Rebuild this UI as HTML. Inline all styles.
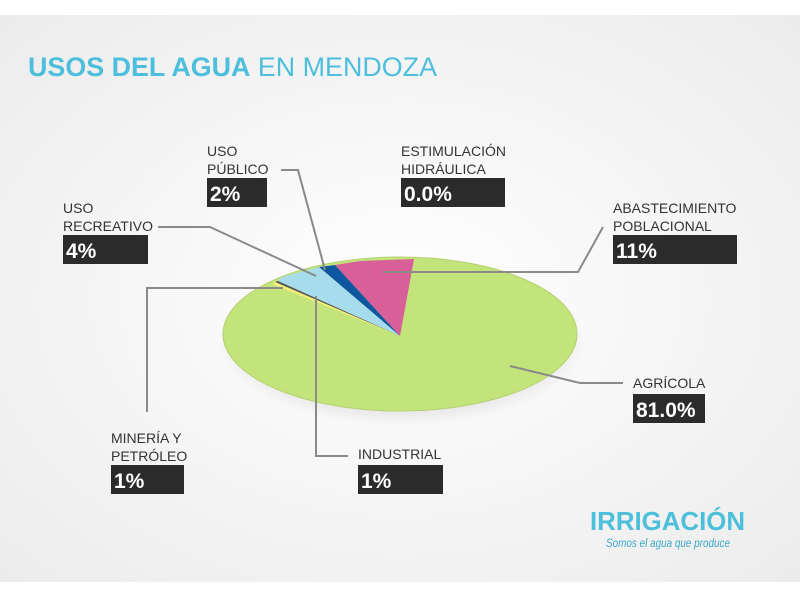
<!DOCTYPE html>
<html><head><meta charset="utf-8"><style>
body{margin:0;width:800px;height:600px;overflow:hidden;background:#fff;font-family:"Liberation Sans",sans-serif}
</style></head><body>
<svg width="800" height="600" viewBox="0 0 800 600" xmlns="http://www.w3.org/2000/svg">
<defs>
<radialGradient id="bg" cx="50%" cy="50%" r="70%">
<stop offset="0" stop-color="#ffffff"/><stop offset="1" stop-color="#ececec"/>
</radialGradient>
<radialGradient id="sh" cx="50%" cy="50%" r="50%">
<stop offset="0.7" stop-color="#000" stop-opacity="0.12"/><stop offset="1" stop-color="#000" stop-opacity="0"/>
</radialGradient>
</defs>
<rect x="0" y="15" width="800" height="567" fill="url(#bg)"/>
<text x="28" y="76" font-size="27" fill="#4dbfdc" textLength="409" lengthAdjust="spacingAndGlyphs"><tspan font-weight="bold">USOS DEL AGUA</tspan> EN MENDOZA</text>
<ellipse cx="402" cy="342" rx="184" ry="84" fill="url(#sh)"/>
<ellipse cx="400" cy="334" rx="177" ry="77" fill="#c3e47a" stroke="#b5d070" stroke-width="1"/>
<polygon points="400,336 335,265 360,261 414,259" fill="#d95f98"/>
<polygon points="400,336 319,267 335,265" fill="#0f56a0"/>
<polygon points="400,336 278,281 282,277 319,267" fill="#a7dcec"/>
<polygon points="400,336 275,282 278,281" fill="#555"/>
<polygon points="400,336 272,284 275,282" fill="#f3f07a"/>
<g stroke="#8a8a8a" stroke-width="2" fill="none">
<polyline points="281,170 298,170 325,270"/>
<polyline points="158,227 210,227 316,276"/>
<polyline points="603,227 578,272 383,272"/>
<polyline points="510,366 580,383 623,383"/>
<polyline points="147,412 147,288 283,288"/>
<polyline points="348,456 316,456 316,296"/>
</g>
<g font-size="14" fill="#333">
<text x="207" y="156">USO</text><text x="207" y="174">PÚBLICO</text>
<text x="401" y="156">ESTIMULACIÓN</text><text x="401" y="174">HIDRÁULICA</text>
<text x="613" y="213">ABASTECIMIENTO</text><text x="613" y="231">POBLACIONAL</text>
<text x="63" y="213">USO</text><text x="63" y="231">RECREATIVO</text>
<text x="633" y="388">AGRÍCOLA</text>
<text x="111" y="443">MINERÍA Y</text><text x="111" y="461">PETRÓLEO</text>
<text x="358" y="459">INDUSTRIAL</text>
</g>
<g fill="#2b2b2b">
<rect x="207" y="178" width="60" height="29"/>
<rect x="401" y="178" width="104" height="29"/>
<rect x="613" y="235" width="124" height="29"/>
<rect x="63" y="235" width="85" height="29"/>
<rect x="633" y="394" width="72" height="29"/>
<rect x="111" y="465" width="73" height="29"/>
<rect x="358" y="465" width="85" height="29"/>
</g>
<g font-size="21" font-weight="bold" fill="#fff">
<text x="210" y="201">2%</text>
<text x="404" y="201">0.0%</text>
<text x="616" y="258">11%</text>
<text x="66" y="258">4%</text>
<text x="636" y="417">81.0%</text>
<text x="114" y="488">1%</text>
<text x="361" y="488">1%</text>
</g>
<text x="590" y="530" font-size="26" font-weight="bold" fill="#4cbfda" textLength="155" lengthAdjust="spacingAndGlyphs">IRRIGACIÓN</text>
<text x="606" y="547" font-size="12" font-style="italic" fill="#3aa8c8" textLength="124" lengthAdjust="spacingAndGlyphs">Somos el agua que produce</text>
</svg>
</body></html>
